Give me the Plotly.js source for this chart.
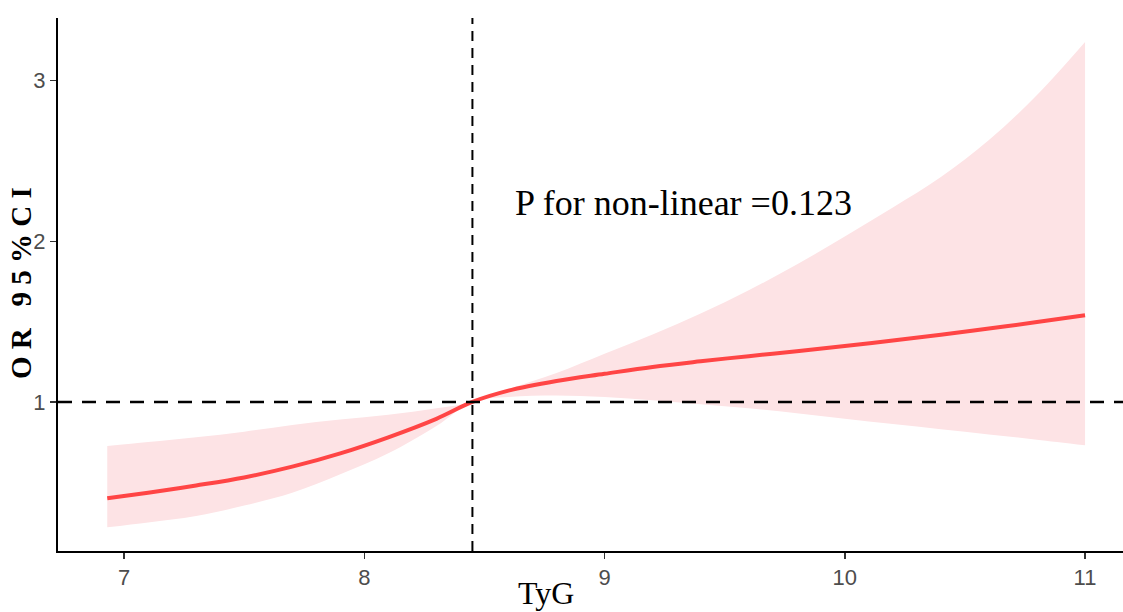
<!DOCTYPE html>
<html><head><meta charset="utf-8">
<script src="https://cdn.plot.ly/plotly-3.0.1.min.js"></script>
<style>html,body{margin:0;padding:0;background:#fff}#chart{width:1123px;height:612px}</style>
</head><body><div id="chart"></div>
<script>
const tyg   = [6.93, 7.1, 7.3, 7.5, 7.7, 7.9, 8.1, 8.3, 8.45, 8.6, 8.8, 9.0, 9.2, 9.4, 9.6, 9.8, 10.0, 10.2, 10.4, 10.6, 10.8, 11.0];
const orVal = [0.40, 0.435, 0.48, 0.53, 0.597, 0.68, 0.78, 0.895, 1.0, 1.07, 1.13, 1.175, 1.218, 1.253, 1.285, 1.316, 1.348, 1.382, 1.418, 1.457, 1.497, 1.54];
const upper = [0.725, 0.75, 0.78, 0.815, 0.857, 0.89, 0.92, 0.96, 1.0, 1.08, 1.18, 1.30, 1.42, 1.55, 1.695, 1.855, 2.03, 2.21, 2.40, 2.63, 2.91, 3.24];
const lower = [0.22, 0.25, 0.29, 0.355, 0.435, 0.55, 0.68, 0.85, 1.0, 1.03, 1.04, 1.03, 1.01, 0.985, 0.96, 0.93, 0.895, 0.862, 0.83, 0.798, 0.765, 0.73];
const xTicks = [7, 8, 9, 10, 11];
const yTicks = [1, 2, 3];
const refX = 8.45, refY = 1;
const pText = "P for non-linear =0.123";
const xTitle = "TyG";
const yTitle = "O R \u00a0 9 5 % C I";

const traces = [
  {x: tyg, y: lower, mode: 'lines', line: {width: 0, color: 'rgba(0,0,0,0)', shape: 'spline'}, hoverinfo: 'skip', showlegend: false},
  {x: tyg, y: upper, mode: 'lines', fill: 'tonexty', fillcolor: 'rgb(253,227,229)', line: {width: 0, color: 'rgba(0,0,0,0)', shape: 'spline'}, hoverinfo: 'skip', showlegend: false},
  {x: tyg, y: orVal, mode: 'lines', line: {color: '#FF4545', width: 4, shape: 'spline'}, showlegend: false}
];

const layout = {
  width: 1123, height: 612,
  margin: {l: 58, r: 0, t: 18, b: 61},
  paper_bgcolor: '#fff', plot_bgcolor: '#fff',
  showlegend: false,
  xaxis: {
    range: [6.725, 11.158], tickvals: xTicks, ticktext: xTicks.map(String),
    showgrid: false, zeroline: false, showline: true, linecolor: '#000', linewidth: 2,
    ticks: 'outside', ticklen: 6, tickwidth: 1.5, tickcolor: '#333',
    tickfont: {family: 'Liberation Sans, Arial, sans-serif', size: 22, color: '#4d4d4d'}
  },
  yaxis: {
    range: [0.072, 3.39], tickvals: yTicks, ticktext: yTicks.map(String),
    showgrid: false, zeroline: false, showline: true, linecolor: '#000', linewidth: 2,
    ticks: 'outside', ticklen: 6, tickwidth: 1.5, tickcolor: '#333',
    tickfont: {family: 'Liberation Sans, Arial, sans-serif', size: 22, color: '#4d4d4d'}
  },
  shapes: [
    {type: 'line', xref: 'paper', x0: 0, x1: 1, yref: 'y', y0: refY, y1: refY, line: {color: '#000', width: 2.5, dash: '14px,10px'}, layer: 'above'},
    {type: 'line', xref: 'x', x0: refX, x1: refX, yref: 'paper', y0: 0, y1: 1, line: {color: '#000', width: 2, dash: '10px,7px'}, layer: 'above'}
  ],
  annotations: [
    {xref: 'x', yref: 'y', x: 8.62, y: 2.24, xanchor: 'left', yanchor: 'middle', showarrow: false,
     text: pText, font: {family: 'Liberation Serif, Times New Roman, serif', size: 36, color: '#000'}},
    {xref: 'paper', yref: 'paper', x: (546-58)/1065, y: -61/533, xanchor: 'center', yanchor: 'bottom', showarrow: false, borderpad: 0,
     text: xTitle, font: {family: 'Liberation Serif, Times New Roman, serif', size: 32, color: '#000'}},
    {xref: 'paper', yref: 'paper', x: (21-58)/1065, y: (551-283)/533, xanchor: 'center', yanchor: 'middle', showarrow: false, textangle: -90, borderpad: 0,
     text: '<b>' + yTitle + '</b>', font: {family: 'Liberation Serif, Times New Roman, serif', size: 29, color: '#000'}}
  ]
};

Plotly.newPlot('chart', traces, layout, {displayModeBar: false, staticPlot: true});
</script>
</body></html>
